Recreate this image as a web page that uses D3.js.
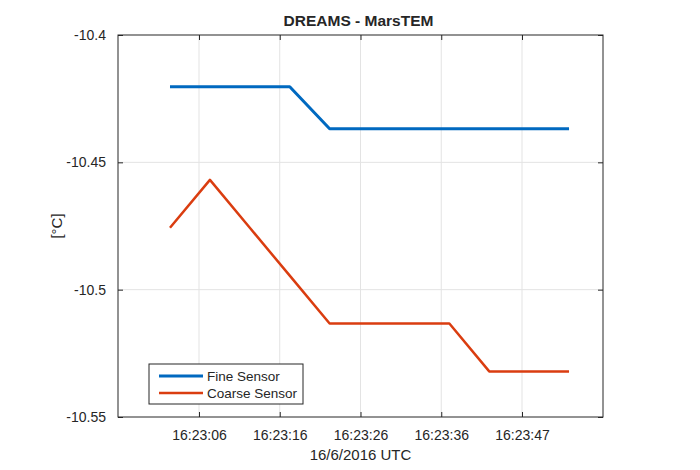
<!DOCTYPE html>
<html lang="en">
<head>
    <meta charset="utf-8">
    <title>DREAMS - MarsTEM</title>
    <script src="https://d3js.org/d3.v7.min.js"></script>
    <style>
        body { margin: 0; background: #fff; }
        text { font-family: 'Liberation Sans', Arial, sans-serif; fill: #262626; }
    </style>
</head>
<body>
<div id="chart"></div>
<script>
/* global d3 */

// sample times, seconds after 16:23:00 UTC on 16/6/2016
var sampleSecs = [2.32, 7.39, 12.45, 17.52, 22.58, 27.65, 32.71, 37.78, 42.84, 47.91, 52.97];
var fineSensor = [-10.4203, -10.4203, -10.4203, -10.4203, -10.4368, -10.4368, -10.4368, -10.4368, -10.4368, -10.4368, -10.4368];
var coarseSensor = [-10.4757, -10.4569, -10.4757, -10.4945, -10.5133, -10.5133, -10.5133, -10.5133, -10.5321, -10.5321, -10.5321];

var xTickSecs = [6, 16.25, 26.5, 36.75, 47];
var xTickLabels = ["16:23:06", "16:23:16", "16:23:26", "16:23:36", "16:23:47"];
var yTicks = [-10.55, -10.5, -10.45, -10.4];
var yTickLabels = ["-10.55", "-10.5", "-10.45", "-10.4"];
var seriesNames = ["Fine Sensor", "Coarse Sensor"];
var seriesColors = ["#0069c0", "#da3d10"];

var width = 700,
    height = 470,
    margin = {top: 35, right: 97, bottom: 53, left: 118};

function toDate(s) {
    return new Date(Date.UTC(2016, 5, 16, 16, 23, 0) + s * 1000);
}

var x = d3.scaleTime()
    .domain([toDate(-4.28), toDate(57.28)])
    .range([margin.left, width - margin.right]);

var y = d3.scaleLinear()
    .domain([-10.55, -10.4])
    .range([height - margin.bottom, margin.top]);

var svg = d3.select('#chart')
    .append('svg')
    .attr('width', width)
    .attr('height', height);

var x0 = margin.left, x1 = width - margin.right,
    y0 = margin.top, y1 = height - margin.bottom;

// grid
svg.append('g')
    .selectAll('line')
    .data(xTickSecs)
    .join('line')
    .attr('x1', function(d) { return x(toDate(d)); })
    .attr('x2', function(d) { return x(toDate(d)); })
    .attr('y1', y0).attr('y2', y1)
    .attr('stroke', '#e3e3e3').attr('stroke-width', 1);

svg.append('g')
    .selectAll('line')
    .data(yTicks.slice(1, -1))
    .join('line')
    .attr('x1', x0).attr('x2', x1)
    .attr('y1', function(d) { return y(d); })
    .attr('y2', function(d) { return y(d); })
    .attr('stroke', '#e3e3e3').attr('stroke-width', 1);

// axes
var xTickMap = new Map(xTickSecs.map(function(s, i) { return [+toDate(s), xTickLabels[i]]; }));

var xAxis = svg.append('g')
    .attr('transform', 'translate(0,' + y1 + ')')
    .call(d3.axisBottom(x)
        .tickValues(xTickSecs.map(toDate))
        .tickFormat(function(d) { return xTickMap.get(+d); })
        .tickSizeInner(-5).tickSizeOuter(0).tickPadding(13));

var xAxisTop = svg.append('g')
    .attr('transform', 'translate(0,' + y0 + ')')
    .call(d3.axisTop(x)
        .tickValues(xTickSecs.map(toDate))
        .tickFormat('')
        .tickSizeInner(-5).tickSizeOuter(0));

var yAxis = svg.append('g')
    .attr('transform', 'translate(' + x0 + ',0)')
    .call(d3.axisLeft(y)
        .tickValues(yTicks)
        .tickFormat(function(d, i) { return yTickLabels[i]; })
        .tickSizeInner(-5).tickSizeOuter(0).tickPadding(12));

var yAxisRight = svg.append('g')
    .attr('transform', 'translate(' + x1 + ',0)')
    .call(d3.axisRight(y)
        .tickValues(yTicks)
        .tickFormat('')
        .tickSizeInner(-5).tickSizeOuter(0));

[xAxis, xAxisTop, yAxis, yAxisRight].forEach(function(g) {
    g.select('.domain').remove();
    g.selectAll('.tick line').attr('stroke', '#262626');
    g.selectAll('.tick text')
        .attr('fill', '#262626')
        .style('font-family', "'Liberation Sans', Arial, sans-serif")
        .style('font-size', '14px');
});

// box
svg.append('rect')
    .attr('x', x0).attr('y', y0)
    .attr('width', x1 - x0).attr('height', y1 - y0)
    .attr('fill', 'none')
    .attr('stroke', '#262626')
    .attr('stroke-width', 1);

// lines
var line = d3.line()
    .x(function(d) { return x(toDate(d[0])); })
    .y(function(d) { return y(d[1]); });

[fineSensor, coarseSensor].forEach(function(vals, i) {
    svg.append('path')
        .datum(sampleSecs.map(function(s, j) { return [s, vals[j]]; }))
        .attr('d', line)
        .attr('fill', 'none')
        .attr('stroke', seriesColors[i])
        .attr('stroke-width', i === 0 ? 3 : 2.5)
        .attr('stroke-linejoin', 'round');
});

// title and labels
svg.append('text')
    .attr('x', 358.5)
    .attr('y', 25.5)
    .attr('text-anchor', 'middle')
    .style('font-size', '15.5px')
    .style('font-weight', 'bold')
    .attr('fill', '#000')
    .text('DREAMS - MarsTEM');

svg.append('text')
    .attr('x', (x0 + x1) / 2)
    .attr('y', 460)
    .attr('text-anchor', 'middle')
    .style('font-size', '15px')
    .text('16/6/2016 UTC');

svg.append('text')
    .attr('transform', 'translate(62,' + (y0 + y1) / 2 + ') rotate(-90)')
    .attr('text-anchor', 'middle')
    .style('font-size', '15px')
    .text('[\u00b0C]');

// legend
var legend = svg.append('g').attr('transform', 'translate(149,364)');
legend.append('rect')
    .attr('width', 154).attr('height', 40)
    .attr('fill', '#fff')
    .attr('stroke', '#262626')
    .attr('stroke-width', 1);

seriesNames.forEach(function(name, i) {
    var ly = 12 + i * 17;
    legend.append('line')
        .attr('x1', 10).attr('x2', 54)
        .attr('y1', ly).attr('y2', ly)
        .attr('stroke', seriesColors[i])
        .attr('stroke-width', i === 0 ? 3 : 2.5);
    legend.append('text')
        .attr('x', 58).attr('y', ly + 4.5)
        .style('font-size', '13.5px')
        .text(name);
});
</script>
</body>
</html>
